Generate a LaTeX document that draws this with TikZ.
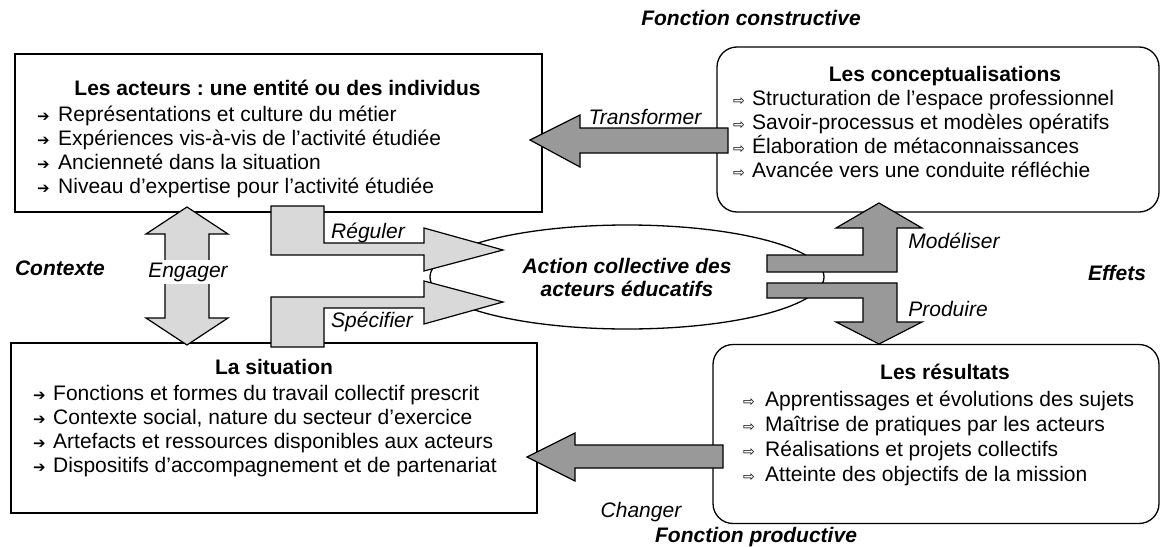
\documentclass[tikz,border=0pt]{standalone}
\usepackage{fontspec}
\setmainfont{Liberation Sans}
\newfontfamily\symbfont{DejaVu Sans}
\usetikzlibrary{positioning,shapes.geometric}

\definecolor{lightfill}{gray}{0.85}
\definecolor{darkfill}{gray}{0.6}

\newcommand{\basefont}{\fontsize{21}{24}\selectfont\frenchspacing}
\newcommand{\blackbul}[1][21pt]{\makebox[#1][l]{\symbfont\fontsize{15}{15}\selectfont ➔}}
\newcommand{\whitebul}[1][19pt]{\makebox[#1][l]{\symbfont\fontsize{14}{14}\selectfont ⇨}}

\begin{document}
\begin{tikzpicture}[x=1pt,y=-1pt]
    \tikzstyle{frame}=[draw,line width=1.3pt,fill=white,inner sep=0pt]
    \tikzstyle{roundframe}=[frame,rounded corners=20pt]
    \tikzstyle{heading}=[font=\basefont\bfseries,anchor=base,inner sep=0pt]
    \tikzstyle{item}=[font=\basefont,anchor=base west,inner sep=0pt]
    \tikzstyle{verb}=[font=\basefont\itshape,anchor=base,inner sep=0pt]
    \tikzstyle{side}=[font=\basefont\bfseries\itshape,anchor=base,inner sep=0pt]
    \tikzstyle{lightarrow}=[draw,line width=1.2pt,fill=lightfill,line join=miter]
    \tikzstyle{darkarrow}=[lightarrow,fill=darkfill]

    \useasboundingbox (0,0) rectangle (1161,546);

    % the four boxes and the action
    \node[frame,minimum width=527pt,minimum height=158pt] (acteurs) at (278.5,133) {};
    \node[roundframe,minimum width=442pt,minimum height=165pt] (concepts) at (938,129.5) {};
    \node[frame,minimum width=526pt,minimum height=170pt] (situation) at (274,428) {};
    \node[roundframe,minimum width=446pt,minimum height=179pt] (resultats) at (936,434) {};
    \node[ellipse,draw,line width=1.3pt,fill=white,minimum width=394pt,minimum height=104pt,inner sep=0pt,
          font=\fontsize{21}{23}\selectfont\bfseries\itshape,align=center] (action) at (627,277)
          {Action collective des\\acteurs éducatifs};

    % box contents
    \node[heading] (acteurs-title) at (277.5,95.5) {Les acteurs : une entité ou des individus};
    \foreach \txt [count=\i] in {Représentations et culture du métier,
                                 Expériences vis-à-vis de l’activité étudiée,
                                 Ancienneté dans la situation,
                                 Niveau d’expertise pour l’activité étudiée}
        \node[item] (acteurs-\i) at (37,97.5+24*\i) {\blackbul\txt};

    \node[heading] (concepts-title) at (945,81.5) {Les conceptualisations};
    \foreach \txt [count=\i] in {Structuration de l’espace professionnel,
                                 Savoir-processus et modèles opératifs,
                                 Élaboration de métaconnaissances,
                                 Avancée vers une conduite réfléchie}
        \node[item] (concepts-\i) at (733,81.5+24*\i) {\whitebul\txt};

    \node[heading] (situation-title) at (274,374.5) {La situation};
    \foreach \txt [count=\i] in {Fonctions et formes du travail collectif prescrit,
                                 {Contexte social, nature du secteur d’exercice},
                                 Artefacts et ressources disponibles aux acteurs,
                                 Dispositifs d’accompagnement et de partenariat}
        \node[item] (situation-\i) at (33,376.5+24*\i) {\blackbul[20pt]\txt};

    \node[heading] (resultats-title) at (945,379) {Les résultats};
    \foreach \txt [count=\i] in {Apprentissages et évolutions des sujets,
                                 Maîtrise de pratiques par les acteurs,
                                 Réalisations et projets collectifs,
                                 Atteinte des objectifs de la mission}
        \node[item] (resultats-\i) at (743,381.5+25*\i) {\whitebul[22pt]\txt};

    % block arrows
    \filldraw[lightarrow] (187,207) -- (228,234) -- (209,234) -- (209,318) -- (228,318) -- (187,345)
        -- (146,318) -- (165,318) -- (165,234) -- (146,234) -- cycle;
    \filldraw[lightarrow] (271,206) -- (324,206) -- (324,243) -- (424,243) -- (424,228) -- (503,250)
        -- (424,271) -- (424,255) -- (271,255) -- cycle;
    \filldraw[lightarrow] (271,347) -- (324,347) -- (324,308) -- (424,308) -- (424,324) -- (503,302)
        -- (424,281) -- (424,297) -- (271,297) -- cycle;
    \filldraw[darkarrow] (767,272) -- (897,272) -- (897,228) -- (922,228) -- (879,203) -- (836,228)
        -- (863,228) -- (863,255) -- (767,255) -- cycle;
    \filldraw[darkarrow] (767,283) -- (897,283) -- (897,322) -- (922,322) -- (879,344) -- (836,322)
        -- (863,322) -- (863,298) -- (767,298) -- cycle;
    \filldraw[darkarrow] (728,128) -- (580,128) -- (580,115) -- (530,140) -- (580,167) -- (580,153)
        -- (728,153) -- cycle;
    \filldraw[darkarrow] (723,445) -- (575,445) -- (575,433) -- (527,457) -- (575,481) -- (575,468)
        -- (723,468) -- cycle;

    % arrow labels
    \node[verb,fill=white,inner sep=3pt] (engager) at (188,277) {Engager};
    \node[verb] (reguler) at (368,238) {Réguler};
    \node[verb] (specifier) at (372,327) {Spécifier};
    \node[verb] (transformer) at (645,124) {Transformer};
    \node[verb] (modeliser) at (954,248) {Modéliser};
    \node[verb] (produire) at (948,316) {Produire};
    \node[verb] (changer) at (641,517) {Changer};

    % side labels
    \node[side] (contexte) at (60,275) {Contexte};
    \node[side] (effets) at (1117,280) {Effets};
    \node[side] (constructive) at (751,25) {Fonction constructive};
    \node[side] (productive) at (756,542) {Fonction productive};
\end{tikzpicture}
\end{document}
